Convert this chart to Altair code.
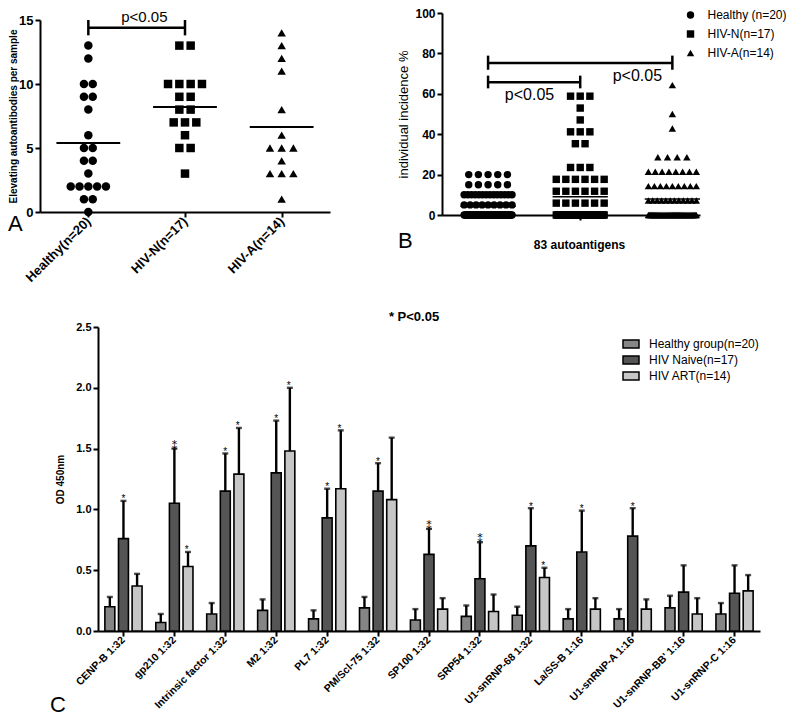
import json
import altair as alt
import pandas as pd

FONT = "Liberation Sans"
W, H = 784, 713

# ---------------- Panel A data ----------------
A_groups = ["Healthy(n=20)", "HIV-N(n=17)", "HIV-A(n=14)"]
A_healthy = [0, 1, 1, 2, 2, 2, 2, 2, 3, 4, 4, 5, 5, 6, 8, 9, 9, 10, 10, 12, 13]
A_hivn = [3, 5, 5, 6, 7, 7, 7, 8, 8, 9, 9, 10, 10, 10, 10, 13, 13]
A_hiva = [1, 3, 3, 3, 4, 5, 5, 5, 6, 8, 11, 12, 13, 14]
A_means = [5.4, 8.2, 6.65]
A_shapes = ["circle", "square", "triangle-up"]
A_spacing = [0.091, 0.117, 0.121]
A_br_from, A_br_to, A_br_level, A_br_low, A_br_high = [0], [1], [14.4], [13.8], [15.0]
A_ptext_x, A_ptext_y, A_ptext = [0.58], [15.25], ["p<0.05"]

# ---------------- Panel B data ----------------
B_groups = ["Healthy (n=20)", "HIV-N(n=17)", "HIV-A(n=14)"]
B_levels_healthy = [0, 5, 10, 15, 20]
B_counts_healthy = [50, 9, 14, 5, 5]
B_levels_hivn = [0, 5.88, 11.76, 17.65, 23.53, 35.29, 41.18, 47.06, 52.94, 58.82]
B_counts_hivn = [52, 6, 6, 6, 3, 2, 3, 1, 1, 3]
B_levels_hiva = [0, 7.14, 14.29, 21.43, 28.57, 42.86, 50.0, 64.29]
B_counts_hiva = [47, 12, 9, 8, 4, 1, 1, 1]
B_br_from = [0, 0]
B_br_to = [1, 2]
B_br_level = [65.7, 75.2]
B_br_low = [62.7, 71.9]
B_br_high = [69.0, 78.9]
B_ptext_x = [0.45, 1.62]
B_ptext_y = [59.5, 69.0]
B_ptext = ["p<0.05", "p<0.05"]

# ---------------- Panel C data ----------------
C_cats = ["CENP-B 1:32", "gp210 1:32", "Intrinsic factor 1:32", "M2 1:32", "PL7 1:32",
          "PM/Scl-75 1:32", "SP100 1:32", "SRP54 1:32", "U1-snRNP-68 1:32", "La/SS-B 1:16",
          "U1-snRNP-A 1:16", "U1-snRNP-BB' 1:16", "U1-snRNP-C 1:16"]
C_groups = ["Healthy group(n=20)", "HIV Naive(n=17)", "HIV ART(n=14)"]
C_fills = ["#858585", "#555555", "#c6c6c6"]
C_healthy = [0.20, 0.07, 0.14, 0.17, 0.10, 0.19, 0.09, 0.12, 0.13, 0.10, 0.10, 0.19, 0.14]
C_healthy_top = [0.28, 0.14, 0.23, 0.26, 0.17, 0.28, 0.18, 0.21, 0.20, 0.18, 0.18, 0.29, 0.23]
C_naive = [0.76, 1.05, 1.15, 1.30, 0.93, 1.15, 0.63, 0.43, 0.70, 0.65, 0.78, 0.32, 0.31]
C_naive_top = [1.07, 1.50, 1.46, 1.73, 1.17, 1.38, 0.84, 0.73, 1.01, 0.99, 1.01, 0.54, 0.54]
C_art = [0.37, 0.53, 1.29, 1.48, 1.17, 1.08, 0.18, 0.16, 0.44, 0.18, 0.18, 0.14, 0.33]
C_art_top = [0.47, 0.65, 1.67, 2.00, 1.65, 1.59, 0.27, 0.30, 0.52, 0.27, 0.26, 0.27, 0.46]
C_naive_stars = [1, 2, 1, 1, 1, 1, 2, 2, 1, 1, 1, 0, 0]
C_art_stars = [0, 1, 1, 1, 1, 0, 0, 0, 1, 0, 0, 0, 0]
C_healthy_stars = [0] * 13

# ---------------- tables ----------------
rowsA = []
for gi, vals in enumerate([A_healthy, A_hivn, A_hiva]):
    for v in vals:
        rowsA.append({"gi": gi, "grp": A_groups[gi], "v": v})
dfA = pd.DataFrame(rowsA)
dfAm = pd.DataFrame({"gi": [0, 1, 2], "m": A_means})
dfAbr = pd.DataFrame({"x1": A_br_from, "x2": A_br_to, "y": A_br_level})
dfAend = pd.DataFrame({"x": A_br_from + A_br_to, "lo": A_br_low * 2, "hi": A_br_high * 2})
dfAt = pd.DataFrame({"x": A_ptext_x, "y": A_ptext_y, "t": A_ptext})

rowsB = []
for gi, (lv, ct) in enumerate([(B_levels_healthy, B_counts_healthy),
                               (B_levels_hivn, B_counts_hivn),
                               (B_levels_hiva, B_counts_hiva)]):
    for level, count in zip(lv, ct):
        for _ in range(count):
            rowsB.append({"gi": gi, "grp": B_groups[gi], "v": level})
dfB = pd.DataFrame(rowsB)
dfBbr = pd.DataFrame({"x1": B_br_from, "x2": B_br_to, "y": B_br_level})
dfBend = pd.DataFrame({"x": B_br_from + B_br_to, "lo": B_br_low + B_br_low, "hi": B_br_high + B_br_high})
dfBt = pd.DataFrame({"x": B_ptext_x, "y": B_ptext_y, "t": B_ptext})

rowsC = []
for gname, means, tops, stars in zip(C_groups, [C_healthy, C_naive, C_art],
                                     [C_healthy_top, C_naive_top, C_art_top],
                                     [C_healthy_stars, C_naive_stars, C_art_stars]):
    for cat, m, t, s in zip(C_cats, means, tops, stars):
        rowsC.append({"cat": cat, "grp": gname, "mean": m, "top": t, "stars": s})
dfC = pd.DataFrame(rowsC)

# ---------------- scales ----------------
def qs(domain, rng):
    return alt.Scale(domain=domain, range=rng, nice=False, zero=False)

scAx = qs([-0.5, 2.5], [32, 322])
scAy = qs([0, 15], [204, 12])
scBx = qs([-0.5, 2.3], [434, 692])
scBy = qs([0, 100], [207, 5])
scCx = alt.Scale(domain=C_cats, range=[90, 752], paddingInner=0.27, paddingOuter=0.135)
scCoff = alt.Scale(domain=C_groups, paddingInner=0.27)
scCy = qs([0, 2.5], [623, 319])

# ---------------- Panel A ----------------
axAx = alt.Axis(orient="bottom", offset=204 - H, values=[0, 1, 2],
                labelExpr=f"{json.dumps(A_groups)}[datum.value]",
                labelAngle=-45, labelAlign="right", labelBaseline="middle",
                labelFontSize=13, labelFontWeight="bold", labelPadding=2,
                labelFlush=False, labelOverlap=False, title=None)
axAy = alt.Axis(orient="left", offset=-32, values=[0, 5, 10, 15],
                labelFontSize=13, labelFontWeight="bold", labelFlush=False, labelOverlap=False,
                title="Elevating autoantibodies per sample", titleFontSize=10,
                titleFontWeight="bold", titleX=-22, titleY=108)

a_pts = alt.Chart(dfA).transform_window(
    r="row_number()", groupby=["gi", "v"]
).transform_joinaggregate(
    n="count()", groupby=["gi", "v"]
).transform_calculate(
    xp=f"datum.gi + (datum.r - (datum.n + 1) / 2) * {json.dumps(A_spacing)}[datum.gi]"
).mark_point(filled=True, size=72, color="black", opacity=1).encode(
    x=alt.X("xp:Q", scale=scAx, axis=axAx),
    y=alt.Y("v:Q", scale=scAy, axis=axAy),
    shape=alt.Shape("grp:N", scale=alt.Scale(domain=A_groups, range=A_shapes), legend=None),
)
a_mean = alt.Chart(dfAm).transform_calculate(
    x1="datum.gi - 0.33", x2="datum.gi + 0.33"
).mark_rule(color="black", strokeWidth=2).encode(
    x=alt.X("x1:Q", scale=scAx, axis=None), x2="x2:Q",
    y=alt.Y("m:Q", scale=scAy, axis=None),
)
a_br = alt.Chart(dfAbr).mark_rule(color="black", strokeWidth=2.5).encode(
    x=alt.X("x1:Q", scale=scAx, axis=None), x2="x2:Q",
    y=alt.Y("y:Q", scale=scAy, axis=None),
)
a_end = alt.Chart(dfAend).mark_rule(color="black", strokeWidth=2.5).encode(
    x=alt.X("x:Q", scale=scAx, axis=None),
    y=alt.Y("lo:Q", scale=scAy, axis=None), y2="hi:Q",
)
a_txt = alt.Chart(dfAt).mark_text(font=FONT, fontSize=15, baseline="middle", color="black").encode(
    x=alt.X("x:Q", scale=scAx, axis=None),
    y=alt.Y("y:Q", scale=scAy, axis=None), text="t:N",
)

# ---------------- Panel B ----------------
axBx = alt.Axis(orient="bottom", offset=207 - H, values=[1], labels=False,
                title="83 autoantigens", titleFontSize=12, titleFontWeight="bold",
                titlePadding=18, titleX=571)
axBy = alt.Axis(orient="left", offset=-434, values=[0, 20, 40, 60, 80, 100],
                labelFontSize=12, labelFontWeight="bold", labelFlush=False, labelOverlap=False,
                title="individual incidence %", titleFontSize=13, titleFontWeight="normal",
                titlePadding=4)
legB = alt.Legend(orient="none", legendX=676.5, legendY=1, title=None, padding=0,
                  labelFont=FONT, labelFontSize=12, labelColor="black", labelOffset=11,
                  symbolFillColor="black", symbolStrokeColor="black", symbolSize=55,
                  rowPadding=5, labelLimit=200)

b_pts = alt.Chart(dfB).transform_window(
    r="row_number()", groupby=["gi", "v"]
).transform_joinaggregate(
    n="count()", groupby=["gi", "v"]
).transform_calculate(
    xp="datum.gi + (datum.r - (datum.n + 1) / 2) * min(0.105, 0.52 / max(datum.n - 1, 1))"
).mark_point(filled=True, size=55, color="black", opacity=1).encode(
    x=alt.X("xp:Q", scale=scBx, axis=axBx),
    y=alt.Y("v:Q", scale=scBy, axis=axBy),
    shape=alt.Shape("grp:N", scale=alt.Scale(domain=B_groups, range=A_shapes), legend=legB),
)
b_mean = alt.Chart(dfB).transform_aggregate(
    m="mean(v)", groupby=["gi"]
).transform_calculate(
    x1="datum.gi - 0.3", x2="datum.gi + 0.3"
).mark_rule(color="black", strokeWidth=1.5).encode(
    x=alt.X("x1:Q", scale=scBx, axis=None), x2="x2:Q",
    y=alt.Y("m:Q", scale=scBy, axis=None),
)
b_br = alt.Chart(dfBbr).mark_rule(color="black", strokeWidth=2.5).encode(
    x=alt.X("x1:Q", scale=scBx, axis=None), x2="x2:Q",
    y=alt.Y("y:Q", scale=scBy, axis=None),
)
b_end = alt.Chart(dfBend).mark_rule(color="black", strokeWidth=2.5).encode(
    x=alt.X("x:Q", scale=scBx, axis=None),
    y=alt.Y("lo:Q", scale=scBy, axis=None), y2="hi:Q",
)
b_txt = alt.Chart(dfBt).mark_text(font=FONT, fontSize=16, baseline="middle", color="black").encode(
    x=alt.X("x:Q", scale=scBx, axis=None),
    y=alt.Y("y:Q", scale=scBy, axis=None), text="t:N",
)

# ---------------- Panel C ----------------
axCx = alt.Axis(orient="bottom", offset=623 - H, labelAngle=-45, labelAlign="right",
                labelBaseline="middle", labelFontSize=10.5, labelFontWeight="bold",
                labelPadding=2, labelOverlap=False, title=None)
axCy = alt.Axis(orient="left", offset=-90, values=[0, 0.5, 1, 1.5, 2, 2.5], format=".1f",
                labelFontSize=11, labelFontWeight="bold", labelFlush=False, labelOverlap=False,
                title="OD 450nm", titleFontSize=10, titleFontWeight="bold", titlePadding=10)
legC = alt.Legend(orient="none", legendX=614, legendY=327, title=None, padding=0,
                  labelFont=FONT, labelFontSize=12, labelColor="black", labelOffset=9,
                  symbolType="M-1,-0.5H1V0.5H-1Z", symbolSize=256,
                  symbolStrokeColor="black", symbolStrokeWidth=1.5, symbolOpacity=1,
                  rowPadding=0)

def cx(axis=None):
    return alt.X("cat:N", scale=scCx, axis=axis)

def cxo():
    return alt.XOffset("grp:N", scale=scCoff)

c_bars = alt.Chart(dfC).mark_bar(stroke="black", strokeWidth=1.6, opacity=1).encode(
    x=cx(axCx), xOffset=cxo(),
    y=alt.Y("mean:Q", scale=scCy, axis=axCy),
    fill=alt.Fill("grp:N", scale=alt.Scale(domain=C_groups, range=C_fills), legend=legC),
)
c_err = alt.Chart(dfC).mark_rule(color="black", strokeWidth=2.4).encode(
    x=cx(), xOffset=cxo(),
    y=alt.Y("mean:Q", scale=scCy, axis=None), y2="top:Q",
)
c_cap = alt.Chart(dfC).mark_tick(color="black", thickness=2.4, size=6, orient="horizontal").encode(
    x=cx(), xOffset=cxo(),
    y=alt.Y("top:Q", scale=scCy, axis=None),
)

# one star = p<0.05 ; two stacked stars drawn as the single glyph U+2051
c_star1 = alt.Chart(dfC).transform_filter("datum.stars == 1").mark_text(
    text="*", font=FONT, fontSize=10, dy=1.5, baseline="alphabetic", color="black"
).encode(x=cx(), xOffset=cxo(), y=alt.Y("top:Q", scale=scCy, axis=None))
c_star2 = alt.Chart(dfC).transform_filter("datum.stars == 2").mark_text(
    text="\u2051", font="DejaVu Sans", fontSize=11, dy=1, baseline="alphabetic", color="black"
).encode(x=cx(), xOffset=cxo(), y=alt.Y("top:Q", scale=scCy, axis=None))

# ---------------- annotations ----------------
one = pd.DataFrame({"k": [0]})
def label(txt, px, py, size, weight="normal", align="left"):
    return alt.Chart(one).mark_text(text=txt, font=FONT, fontSize=size, fontWeight=weight,
                                    align=align, baseline="middle", color="black").encode(
        x=alt.value(px), y=alt.value(py))

t_A = label("A", 0, 216, 22)
t_B = label("B", 390, 233, 22)
t_C = label("C", 42, 697, 22)
t_title = label("* P<0.05", 406, 309, 13, "bold", "center")

chart = alt.layer(
    a_pts, a_mean, a_br, a_end, a_txt,
    b_pts, b_mean, b_br, b_end, b_txt,
    c_bars, c_err, c_cap, c_star1, c_star2,
    t_A, t_B, t_C, t_title,
).resolve_scale(
    x="independent", y="independent", shape="independent", fill="independent",
    xOffset="independent",
).resolve_axis(
    x="independent", y="independent"
).resolve_legend(
    shape="independent", fill="independent"
).properties(
    width=W, height=H, padding=0, autosize=alt.AutoSizeParams(type="none")
).configure_view(stroke=None).configure_axis(
    domainColor="black", domainWidth=2, tickColor="black", tickWidth=2, tickSize=5,
    labelColor="black", titleColor="black", grid=False, labelFont=FONT, titleFont=FONT,
)

chart.save("out.html", embed_options={"renderer": "svg", "actions": False})
